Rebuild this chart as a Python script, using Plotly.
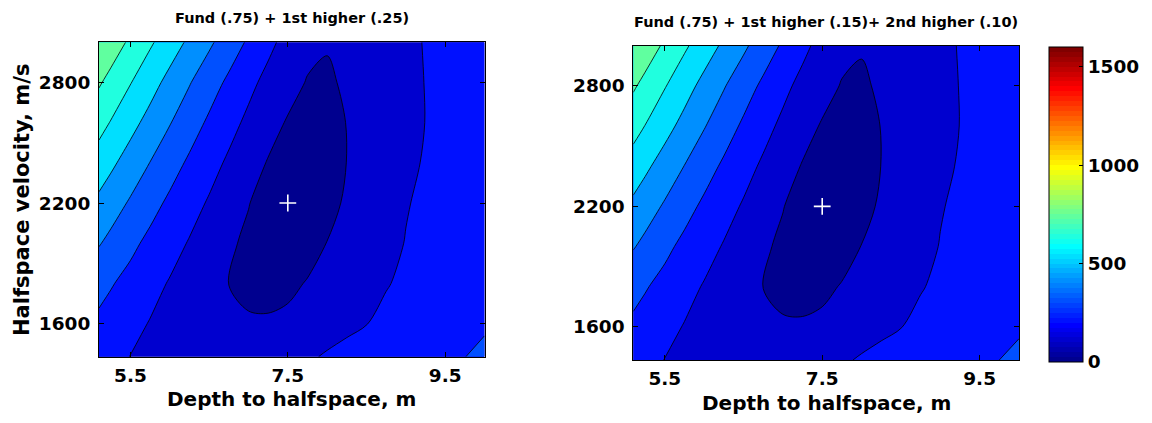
import plotly.graph_objects as go

# ---------------- data ----------------
depth_m = [5.1, 5.25, 5.5, 5.75, 6.0, 6.25, 6.5, 6.75, 7.0, 7.25, 7.5,
           7.75, 8.0, 8.25, 8.5, 8.75, 9.0, 9.25, 9.5, 9.75, 10.0]
velocity_ms = [1435, 1600, 1800, 2000, 2200, 2400, 2600, 2800, 3000]

# misfit values, one row per velocity (rows follow velocity_ms)
misfit_fund_1st = [
    [262, 244, 208, 188, 172, 160, 152, 150, 153, 162, 177, 197, 220, 240, 256, 270, 282, 293, 303, 314, 332],
    [295, 274, 239, 205, 180, 158, 140, 127, 120, 120, 130, 148, 168, 188, 208, 230, 248, 266, 282, 296, 305],
    [347, 323, 283, 242, 203, 167, 132, 104, 72, 62, 80, 112, 132, 155, 180, 205, 225, 243, 258, 271, 283],
    [427, 394, 339, 290, 247, 203, 160, 121, 85, 50, 40, 60, 107, 130, 157, 185, 213, 232, 246, 258, 268],
    [502, 467, 408, 350, 296, 248, 200, 152, 109, 60, 22, 35, 78, 117, 145, 175, 205, 225, 240, 252, 262],
    [584, 545, 481, 418, 357, 299, 247, 194, 140, 100, 72, 55, 68, 106, 132, 162, 194, 216, 232, 244, 254],
    [665, 625, 557, 491, 425, 361, 299, 244, 188, 135, 98, 75, 75, 107, 128, 155, 184, 211, 228, 240, 250],
    [746, 704, 634, 564, 494, 426, 360, 296, 237, 180, 135, 100, 95, 115, 135, 160, 187, 212, 228, 240, 250],
    [833, 789, 717, 644, 575, 506, 437, 369, 301, 236, 175, 128, 110, 115, 138, 160, 188, 215, 232, 245, 255],
]
misfit_fund_1st_2nd = [
    [262, 244, 208, 188, 172, 160, 152, 150, 153, 162, 177, 197, 220, 240, 256, 270, 282, 293, 303, 315, 333],
    [295, 274, 239, 205, 180, 158, 140, 127, 120, 120, 130, 148, 168, 188, 208, 230, 248, 266, 282, 296, 305],
    [347, 323, 283, 242, 203, 167, 132, 104, 72, 62, 80, 112, 132, 155, 180, 205, 225, 243, 258, 271, 283],
    [427, 394, 339, 290, 247, 203, 160, 121, 85, 50, 40, 60, 107, 130, 157, 185, 213, 232, 246, 258, 268],
    [502, 467, 408, 350, 296, 248, 200, 152, 109, 60, 22, 35, 78, 117, 145, 175, 205, 225, 240, 252, 262],
    [584, 545, 481, 418, 357, 299, 247, 194, 140, 100, 72, 55, 68, 106, 132, 162, 194, 216, 232, 244, 254],
    [668, 628, 560, 493, 426, 362, 299, 244, 188, 135, 98, 75, 75, 107, 128, 155, 184, 211, 228, 240, 250],
    [748, 706, 636, 565, 495, 427, 361, 296, 237, 180, 135, 100, 95, 115, 135, 160, 187, 212, 228, 240, 250],
    [835, 791, 719, 646, 576, 507, 438, 369, 301, 236, 175, 128, 110, 115, 138, 160, 188, 215, 232, 245, 255],
]

best_depth = [7.5]
best_velocity = [2200]

level_start, level_end, level_step = 105, 735, 105
band_colors = ["#00008F", "#0000CF", "#0010FF", "#0050FF",
               "#008FFF", "#00DFFF", "#20FFDF", "#60FF9F"]

panel_titles = ["Fund (.75) + 1st higher (.25)",
                "Fund (.75) + 1st higher (.15)+ 2nd higher (.10)"]
x_title = "Depth to halfspace, m"
y_title = "Halfspace velocity, m/s"
x_ticks = [5.5, 7.5, 9.5]
y_ticks = [1600, 2200, 2800]
cbar_ticks = [0, 500, 1000, 1500]
cbar_range = [0, 1600]

# ---------------- styling helpers ----------------
W, H = 1152, 423
OFF = 8  # page body margin: the figure starts 8 px from the window corner
FONT = "DejaVu Sans"


def px(v):
    return (v - OFF) / W


def py(v):
    return 1 - (v - OFF) / H


def jet64():
    n = 16
    u = [i / n for i in range(1, n + 1)] + [1.0] * (n - 1) + [i / n for i in range(n, 0, -1)]
    cols = [[0.0, 0.0, 0.0] for _ in range(64)]
    for j, val in enumerate(u, start=1):
        g = 8 + j
        r = g + n
        b = g - n
        if 1 <= r <= 64:
            cols[r - 1][0] = val
        if 1 <= g <= 64:
            cols[g - 1][1] = val
        if 1 <= b <= 64:
            cols[b - 1][2] = val
    return ["rgb(%d,%d,%d)" % tuple(round(255 * c) for c in col) for col in cols]


jet = jet64()
cbar_scale = []
for i, c in enumerate(jet):
    cbar_scale.append([i / 64, c])
    cbar_scale.append([(i + 1) / 64, c])

nc = len(band_colors) - 1
band_scale = []
for k, c in enumerate(band_colors):
    band_scale.append([max(0.0, (k - 0.5) / nc), c])
    band_scale.append([min(1.0, (k + 0.5) / nc), c])

fig = go.Figure()

panels = [
    dict(z=misfit_fund_1st, xa="x", ya="y"),
    dict(z=misfit_fund_1st_2nd, xa="x2", ya="y2"),
]
for p in panels:
    fig.add_trace(go.Contour(
        x=depth_m, y=velocity_ms, z=p["z"],
        xaxis=p["xa"], yaxis=p["ya"],
        autocontour=False,
        contours=dict(start=level_start, end=level_end, size=level_step,
                      coloring="fill", showlines=True),
        line=dict(color="black", width=0.8, smoothing=0.9),
        colorscale=band_scale, showscale=False, hoverinfo="skip",
    ))
    fig.add_trace(go.Scatter(
        x=best_depth, y=best_velocity, xaxis=p["xa"], yaxis=p["ya"],
        mode="markers",
        marker=dict(symbol="cross-thin", size=12, line=dict(color="white", width=1.6)),
        showlegend=False, hoverinfo="skip",
    ))

# colour bar carrier (invisible markers)
fig.add_trace(go.Scatter(
    x=best_depth * 2, y=best_velocity * 2, xaxis="x2", yaxis="y2",
    mode="markers",
    marker=dict(size=1, opacity=0, color=cbar_range, cmin=cbar_range[0], cmax=cbar_range[1],
                colorscale=cbar_scale, showscale=True,
                colorbar=dict(
                    x=px(1049), xanchor="left", xpad=0,
                    y=py(47), yanchor="top", ypad=0,
                    len=315, lenmode="pixels",
                    thickness=34, thicknessmode="pixels",
                    outlinecolor="black", outlinewidth=1,
                    tickvals=cbar_ticks, ticks="inside", ticklen=4, tickcolor="black",
                    tickfont=dict(family=FONT, size=18.5, color="black", weight="bold"),
                )),
    showlegend=False, hoverinfo="skip",
))

axis_common = dict(showgrid=False, zeroline=False, showline=True, linecolor="black",
                   linewidth=1, mirror="ticks", ticks="inside", ticklen=5,
                   tickcolor="black",
                   tickfont=dict(family=FONT, size=18.5, color="black", weight="bold"))

fig.update_layout(
    width=W, height=H,
    margin=dict(l=0, r=0, t=0, b=0),
    paper_bgcolor="white", plot_bgcolor="white",
    showlegend=False,
    xaxis=dict(domain=[px(99), px(484.5)], range=[depth_m[0], depth_m[-1]],
               tickvals=x_ticks, ticktext=[str(v) for v in x_ticks],
               anchor="y", ticklabelstandoff=2, **axis_common),
    yaxis=dict(domain=[py(356.7), py(42.3)], range=[velocity_ms[0], velocity_ms[-1]],
               tickvals=y_ticks, anchor="x", ticklabelstandoff=4, **axis_common),
    xaxis2=dict(domain=[px(633.3), px(1019)], range=[depth_m[0], depth_m[-1]],
                tickvals=x_ticks, ticktext=[str(v) for v in x_ticks],
                anchor="y2", ticklabelstandoff=2, **axis_common),
    yaxis2=dict(domain=[py(360), py(45.7)], range=[velocity_ms[0], velocity_ms[-1]],
                tickvals=y_ticks, anchor="x2", ticklabelstandoff=4, **axis_common),
)

title_font = dict(family=FONT, size=14.5, color="black", weight="bold")
label_font = dict(family=FONT, size=20, color="black", weight="bold")
ylabel_font = dict(family=FONT, size=21, color="black", weight="bold")
ann = [
    dict(text=panel_titles[0], x=px(291.5), y=py(18), font=title_font),
    dict(text=panel_titles[1], x=px(826), y=py(22), font=title_font),
    dict(text=x_title, x=px(291.5), y=py(399), font=label_font),
    dict(text=x_title, x=px(826), y=py(403), font=label_font),
    dict(text=y_title, x=px(22), y=py(200), font=ylabel_font, textangle=-90),
]
for a in ann:
    fig.add_annotation(xref="paper", yref="paper", xanchor="center", yanchor="middle",
                       showarrow=False, **a)

fig.write_html("out.html")
